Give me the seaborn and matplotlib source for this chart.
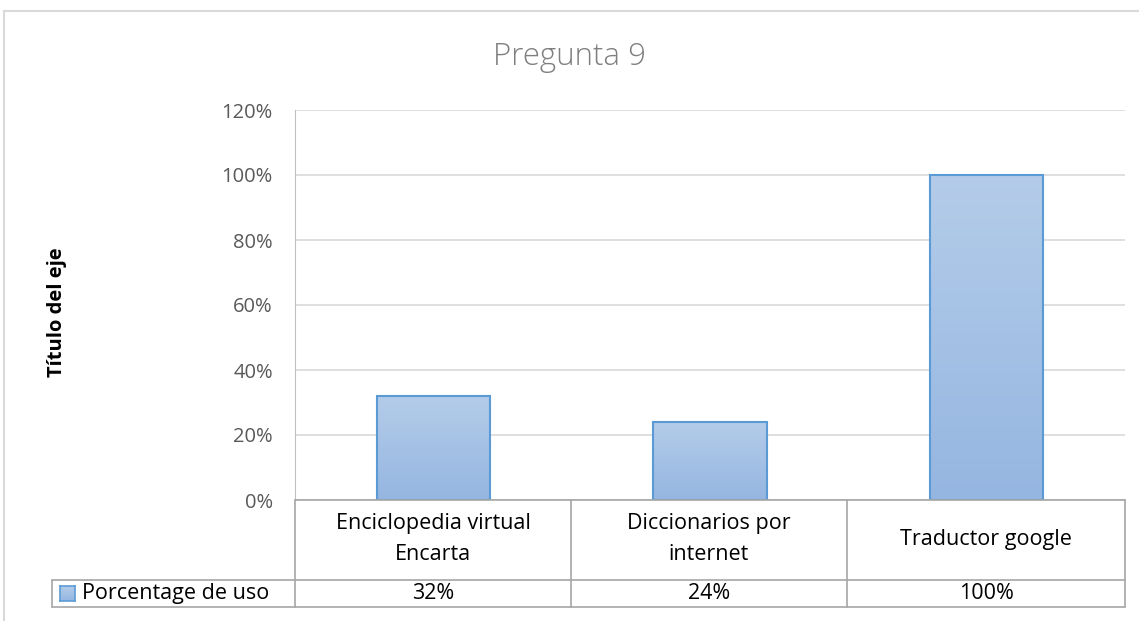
import matplotlib.pyplot as plt
import matplotlib.colors as mcolors
import numpy as np
import pandas as pd
import seaborn as sns
from matplotlib.patches import Rectangle
from matplotlib.lines import Line2D
from matplotlib.ticker import PercentFormatter

# Datos
categorias = ["Enciclopedia virtual\nEncarta", "Diccionarios por\ninternet", "Traductor google"]
valores = [0.32, 0.24, 1.00]
serie = "Porcentage de uso"
ticks_y = [0, 0.2, 0.4, 0.6, 0.8, 1.0, 1.2]

df = pd.DataFrame({"categoria": categorias, "valor": valores})

sns.set_style("white")
plt.rcParams['font.family'] = ['Open Sans', 'DejaVu Sans']

W, H = 1139, 621
fig = plt.figure(figsize=(W / 100, H / 100), dpi=100)

def fx(px):
    return px / W

def fy(py):
    return 1 - py / H

# Area del grafico (en pixeles del original)
x0, x1, ytop, ybot = 295, 1125, 110, 500
ax = fig.add_axes([fx(x0), fy(ybot), fx(x1) - fx(x0), fy(ytop) - fy(ybot)])

borde = "#5b9bd5"
sns.barplot(data=df, x="categoria", y="valor", ax=ax, width=0.41,
            color="#a5c0e6", edgecolor=borde, linewidth=1.5, zorder=3)

# Relleno degradado de las barras
cmap = mcolors.LinearSegmentedColormap.from_list("grad", ["#95b6e1", "#b4cce9"])
grad = np.linspace(0, 1, 256).reshape(-1, 1)
for bar in ax.patches:
    bx, by = bar.get_x(), bar.get_y()
    bw, bh = bar.get_width(), bar.get_height()
    im = ax.imshow(grad, cmap=cmap, origin="lower", aspect="auto",
                   extent=[bx, bx + bw, by, by + bh], zorder=3.5)
    im.set_clip_path(bar)
    bar.set_facecolor("none")
    bar.set_zorder(4)

ax.set_xlim(-0.5, len(categorias) - 0.5)
ax.set_ylim(0, 1.2)
ax.set_yticks(ticks_y)
ax.yaxis.set_major_formatter(PercentFormatter(1.0, decimals=0))
ax.tick_params(axis="y", labelsize=14.5, colors="#595959", length=0, pad=16)
ax.set_xticks([])
ax.set_xlabel("")
ax.set_ylabel("")
ax.grid(axis="y", color="#d9d9d9", linewidth=1.2, zorder=0)
for s in ["top", "right", "bottom"]:
    ax.spines[s].set_visible(False)
ax.spines["left"].set_color("#bfbfbf")

# Titulo y titulo del eje
fig.text(0.5, fy(57), "Pregunta 9", ha="center", va="center",
         fontsize=22.5, color="#7f7f7f", fontweight="light")
fig.text(fx(57), fy(312), "Título del eje", ha="center", va="center",
         rotation=90, fontsize=14.5, fontweight="bold", color="black")

# Tabla de datos
linea = "#a6a6a6"
cols = [295, 571, 847, 1125]
r0, r1, r2 = 500, 580, 607
leg_x = 52
fs_tabla = 15.5

def hline(xa, xb, y):
    fig.add_artist(Line2D([fx(xa), fx(xb)], [fy(y), fy(y)], color=linea, lw=1.2))

def vline(x, ya, yb):
    fig.add_artist(Line2D([fx(x), fx(x)], [fy(ya), fy(yb)], color=linea, lw=1.2))

hline(cols[0], cols[-1], r0)
hline(leg_x, cols[-1], r1)
hline(leg_x, cols[-1], r2)
for c in cols:
    vline(c, r0, r2)
vline(leg_x, r1, r2)

for i, (cat, v) in enumerate(zip(categorias, valores)):
    cx = (cols[i] + cols[i + 1]) / 2
    fig.text(fx(cx), fy((r0 + r1) / 2 - 1), cat, ha="center", va="center",
             fontsize=fs_tabla, color="black", linespacing=1.6)
    fig.text(fx(cx), fy((r1 + r2) / 2), f"{v:.0%}", ha="center", va="center",
             fontsize=fs_tabla, color="black")

# Clave de la leyenda
kx, ky, ks = 60, 586, 15
key_ax = fig.add_axes([fx(kx), fy(ky + ks), fx(ks), fy(ky) - fy(ky + ks)])
key_ax.imshow(grad, cmap=cmap, origin="lower", aspect="auto", extent=[0, 1, 0, 1])
key_ax.set_xticks([])
key_ax.set_yticks([])
for s in key_ax.spines.values():
    s.set_color(borde)
    s.set_linewidth(1.2)
fig.text(fx(kx + ks + 7), fy((r1 + r2) / 2), serie, ha="left", va="center",
         fontsize=fs_tabla, color="black")

# Borde del area del grafico
fig.add_artist(Rectangle((fx(4), fy(H + 20)), 1.2, fy(11) - fy(H + 20),
                         transform=fig.transFigure, fill=False,
                         edgecolor="#d9d9d9", lw=1.5))

fig.savefig("out.png", dpi=100)
